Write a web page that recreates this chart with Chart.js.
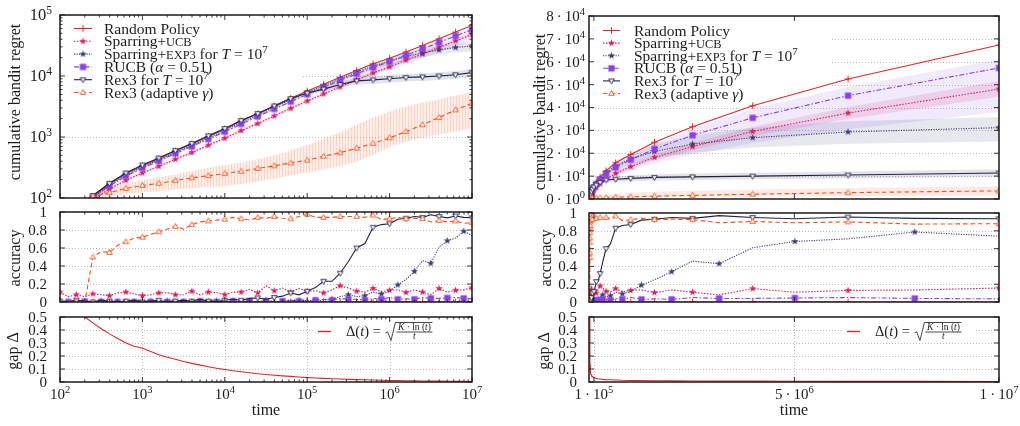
<!DOCTYPE html>
<html><head><meta charset="utf-8">
<script src="https://cdn.jsdelivr.net/npm/chart.js@4.4.1/dist/chart.umd.min.js"></script>
<style>
html,body{margin:0;padding:0;background:#fff;}
#wrap{position:relative;width:1020px;height:426px;overflow:hidden;background:#fff;}
#wrap canvas{position:absolute;left:0;top:0;}
</style></head><body><div id="wrap"></div>
<script>
// ================= DATA =================
// time samples (regret curves, every 10^0.2)
const regretTimes = [1e2,1.58e2,2.51e2,3.98e2,6.31e2,1e3,1.58e3,2.51e3,3.98e3,6.31e3,1e4,1.58e4,2.51e4,3.98e4,6.31e4,1e5,1.58e5,2.51e5,3.98e5,6.31e5,1e6,1.58e6,2.51e6,3.98e6,6.31e6,1e7];
// time samples (accuracy and gap curves, every 10^0.1)
const accTimes = [1e2,1.26e2,1.58e2,2e2,2.51e2,3.16e2,3.98e2,5.01e2,6.31e2,7.94e2,
  1e3,1.26e3,1.58e3,2e3,2.51e3,3.16e3,3.98e3,5.01e3,6.31e3,7.94e3,
  1e4,1.26e4,1.58e4,2e4,2.51e4,3.16e4,3.98e4,5.01e4,6.31e4,7.94e4,
  1e5,1.26e5,1.58e5,2e5,2.51e5,3.16e5,3.98e5,5.01e5,6.31e5,7.94e5,
  1e6,1.26e6,1.58e6,2e6,2.51e6,3.16e6,3.98e6,5.01e6,6.31e6,7.94e6,1e7];

// cumulative bandit regret (means)
const regretRandom   = [42,68,107,170,251,339,442,589,767,1023,1349,1841,2399,3236,4315,5689,7328,9550,12300,15850,19500,24830,31600,40740,52480,67300];
const regretSparUCB  = [38,60,95,141,195,257,331,432,556,733,955,1274,1660,2213,2951,3890,5070,6607,8710,11220,14130,18200,22910,29510,37580,48080];
const regretSparEXP3 = [40,65,102,162,240,324,422,562,733,977,1288,1758,2291,3090,4074,5370,6918,8913,11600,14500,17500,20800,24000,26800,29300,31200];
const regretRUCB     = [40,65,102,158,229,309,403,537,700,923,1216,1641,2163,2884,3802,5012,6457,8511,10840,13800,17180,21880,27860,35480,45190,57280];
const regretRex3     = [42,69,110,174,257,347,452,603,785,1047,1380,1862,2427,3236,4266,5248,6095,7244,8318,8650,9016,9441,9661,10000,10470,11350];
const regretAdaptive = [45,71,105,123,143,160,174,193,214,232,251,275,305,337,375,417,483,553,656,785,966,1230,1585,2089,2786,3548];

// regret confidence bands (upper / lower)
const bandUCBHigh  = [41,64,102,151,209,275,354,462,595,784,1022,1363,1776,2368,3158,4162,5425,7070,9320,12010,15120,19470,24510,31580,40210,51450];
const bandUCBLow   = [35,56,88,131,181,239,308,402,517,682,888,1185,1544,2058,2744,3618,4715,6145,8100,10430,13140,16930,21310,27440,34950,44710];
const bandEXP3High = [42,68,107,170,252,340,443,590,770,1026,1352,1846,2406,3245,4278,5640,7400,9700,12900,16400,20000,24000,27800,31200,34000,35800];
const bandEXP3Low  = [38,62,97,154,228,308,401,534,696,928,1224,1670,2176,2936,3870,5100,6450,8100,10300,12700,15000,17600,20200,22500,24200,25100];
const bandRUCBHigh = [42,68,107,166,240,325,423,564,735,969,1277,1723,2271,3028,3992,5263,6780,8940,11490,14900,18700,24000,30800,39500,49000,61000];
const bandRUCBLow  = [38,62,97,150,218,294,383,510,665,877,1155,1559,2055,2740,3612,4700,5700,6500,8300,10300,12500,15500,19500,24500,30500,38000];
const bandRex3High = [43,71,113,179,265,357,466,621,809,1078,1421,1918,2500,3333,4394,5510,6580,8040,9400,9860,10370,10860,11110,11500,12040,13050];
const bandRex3Low  = [41,67,107,169,249,337,438,585,761,1016,1339,1806,2354,3139,4138,4990,5610,6450,7240,7440,7750,8120,8310,8600,9000,9760];
const bandAdaHigh  = [50,79,115,148,174,195,219,243,275,309,347,380,437,501,603,741,933,1202,1585,2089,2630,3162,3631,4169,4786,5559];
const bandAdaLow   = [40,63,95,105,115,123,129,138,145,151,158,170,186,209,234,263,295,331,398,513,676,832,977,1096,1230,1380];

// accuracy
const accRandom   = [0,0,0,0,0,0,0,0,0,0, 0,0,0,0,0,0,0,0,0,0, 0,0,0,0,0,0,0,0,0,0, 0,0,0,0,0,0,0,0,0,0, 0,0,0,0,0,0,0,0,0,0, 0];
const accSparUCB  = [0.11,0.06,0.08,0.06,0.09,0.08,0.07,0.10,0.11,0.09, 0.07,0.08,0.10,0.105,0.08,0.08,0.12,0.08,0.11,0.105,
  0.08,0.11,0.11,0.14,0.10,0.18,0.125,0.155,0.11,0.15, 0.12,0.125,0.10,0.135,0.18,0.155,0.12,0.11,0.15,0.115,
  0.13,0.137,0.105,0.135,0.11,0.08,0.15,0.11,0.13,0.135, 0.157];
const accSparEXP3 = [0.01,0,0.02,0.01,0,0.01,0.02,0,0.01,0, 0.02,0.01,0,0.01,0.02,0,0.01,0,0.02,0.01,
  0,0.01,0.02,0.01,0,0.02,0.01,0,0.02,0.01, 0.02,0.01,0.02,0.03,0.06,0.08,0.06,0.07,0.11,0.09,
  0.12,0.19,0.25,0.34,0.46,0.43,0.61,0.68,0.71,0.786, 0.74];
const accRUCB     = [0,0,0,0.005,0,0,0,0,0.005,0, 0,0,0.005,0,0,0,0,0.01,0,0,
  0,0.01,0,0.01,0,0.01,0,0.01,0.02,0.01, 0.01,0.02,0.03,0.02,0.04,0.03,0.03,0.02,0.04,0.03,
  0.05,0.03,0.035,0.03,0.05,0.04,0.04,0.045,0.05,0.04, 0.035];
const accRex3     = [0.01,0.005,0.02,0.01,0,0.02,0.01,0,0.01,0.02, 0,0.01,0.02,0,0.01,0.02,0.01,0.03,0.01,0,
  0.02,0.03,0.02,0.04,0.045,0.03,0.05,0.065,0.10,0.08, 0.12,0.16,0.23,0.23,0.32,0.45,0.60,0.65,0.83,0.86,
  0.87,0.92,0.93,0.95,0.94,0.97,0.95,0.935,0.955,0.94, 0.936];
const accAdaptive = [0,0,0,0,0.5,0.56,0.55,0.63,0.67,0.71, 0.72,0.75,0.78,0.81,0.84,0.81,0.86,0.89,0.90,0.91,
  0.92,0.94,0.925,0.91,0.94,0.93,0.95,0.93,0.925,0.95, 0.975,0.94,0.94,0.94,0.95,0.95,0.95,0.94,0.965,0.915,
  0.925,0.94,0.925,0.93,0.925,0.89,0.905,0.89,0.90,0.875, 0.88];

// gap Δ(t)
const gapValues = [0.68,0.62,0.56,0.50,0.455,0.41,0.37,0.335,0.30,0.275,
  0.26,0.235,0.21,0.19,0.175,0.158,0.143,0.13,0.117,0.106,
  0.096,0.087,0.079,0.071,0.064,0.058,0.052,0.047,0.043,0.038,
  0.034,0.031,0.028,0.025,0.023,0.02,0.018,0.017,0.015,0.013,
  0.012,0.011,0.01,0.009,0.008,0.007,0.0065,0.006,0.005,0.0048,0.0043];

// tick labels
const logXTickLabels   = ['10^2','10^3','10^4','10^5','10^6','10^7'];
const linXTickValues   = [1e5, 5e6, 1e7];
const linXTickLabels   = ['1·10^5','5·10^6','1·10^7'];
const logRegretLabels  = ['10^2','10^3','10^4','10^5'];
const linRegretValues  = [0,1e4,2e4,3e4,4e4,5e4,6e4,7e4,8e4];
const linRegretLabels  = ['0·10^0','1·10^4','2·10^4','3·10^4','4·10^4','5·10^4','6·10^4','7·10^4','8·10^4'];
const accTickValues    = [0,0.2,0.4,0.6,0.8,1];
const accTickLabels    = ['0','0.2','0.4','0.6','0.8','1'];
const gapTickValues    = [0,0.1,0.2,0.3,0.4,0.5];
const gapTickLabels    = ['0','0.1','0.2','0.3','0.4','0.5'];

// legend text
const seriesLabels = [
  [{t:'Random Policy'}],
  [{t:'Sparring+'},{t:'UCB',sc:true}],
  [{t:'Sparring+'},{t:'EXP3',sc:true},{t:' for '},{t:'T',it:true},{t:' = 10'},{t:'7',sup:true}],
  [{t:'RUCB ('},{t:'α',it:true},{t:' = 0.51)'}],
  [{t:'Rex3 for '},{t:'T',it:true},{t:' = 10'},{t:'7',sup:true}],
  [{t:'Rex3 (adaptive '},{t:'γ',it:true},{t:')'}]
];

// ================= STYLES =================
const FONT = '"Liberation Serif","DejaVu Serif",serif';
const TXT = '#1c1c1c';
const seriesStyles = [
  {color:'#e3262b', dash:[],          marker:'plus'},
  {color:'#e01c5c', dash:[1.5,1.5],   marker:'star'},
  {color:'#3a3f72', dash:[1.2,1.3],   marker:'star'},
  {color:'#8a3ff0', dash:[5,2,1.5,2], marker:'square'},
  {color:'#1f2248', dash:[],          marker:'tridown'},
  {color:'#ff4d12', dash:[4.5,3],     marker:'triup'}
];
const accPhase = [0,0,1,1,0,0];

function makeMarker(kind, color) {
  const S = 13, c = document.createElement('canvas'); c.width = S; c.height = S;
  const g = c.getContext('2d'), m = S / 2;
  g.strokeStyle = color; g.fillStyle = color; g.lineWidth = 1;
  if (kind === 'plus') {
    g.beginPath(); g.moveTo(m-3.3,m); g.lineTo(m+3.3,m); g.moveTo(m,m-3.3); g.lineTo(m,m+3.3); g.stroke();
  } else if (kind === 'star') {
    g.beginPath();
    for (let i = 0; i < 10; i++) { const r = i % 2 ? 1.6 : 3.8; const a = -Math.PI/2 + i*Math.PI/5; g.lineTo(m + r*Math.cos(a), m + r*Math.sin(a)); }
    g.closePath(); g.fill();
  } else if (kind === 'square') {
    g.fillRect(m-3.1, m-3.1, 6.2, 6.2);
  } else {
    const s = kind === 'triup' ? -1 : 1;
    g.lineWidth = 0.9;
    g.beginPath(); g.moveTo(m-2.8, m - s*1.8); g.lineTo(m+2.8, m - s*1.8); g.lineTo(m, m + s*2.9); g.closePath();
    g.fillStyle = '#fff'; g.fill(); g.stroke();
  }
  return c;
}
const markers = seriesStyles.map(s => makeMarker(s.marker, s.color));

function hatchPattern() {
  const c = document.createElement('canvas'); c.width = 3; c.height = 4;
  const g = c.getContext('2d');
  g.fillStyle = 'rgba(255,150,110,0.17)'; g.fillRect(0,0,3,4);
  g.fillStyle = 'rgba(255,120,80,0.22)'; g.fillRect(0,0,1,4);
  return g.createPattern(c, 'repeat');
}

// ================= TEXT HELPERS =================
function runFont(r, size) {
  let s = size; if (r.sup) s = size*0.7; if (r.sc) s = size*0.8;
  return (r.it ? 'italic ' : '') + s.toFixed(2) + 'px ' + FONT;
}
function richWidth(ctx, runs, size) {
  let w = 0; for (const r of runs) { ctx.font = runFont(r, size); w += ctx.measureText(r.t).width; } return w;
}
function drawRich(ctx, runs, x, y, size, align, mid) {
  const w = richWidth(ctx, runs, size);
  let cx = align === 'right' ? x - w : align === 'center' ? x - w/2 : x;
  ctx.textAlign = 'left'; ctx.textBaseline = 'alphabetic';
  const base = y + size * (mid || 0.33);
  for (const r of runs) {
    ctx.font = runFont(r, size);
    ctx.fillText(r.t, cx, base + (r.sup ? -size*0.38 : 0));
    cx += ctx.measureText(r.t).width;
  }
}
// 'a·b^c' -> runs; sep is the spacing put around the centre dot
function parseTick(s, sep) {
  const runs = [];
  let body = s, sup = null;
  const i = s.indexOf('^'); if (i >= 0) { body = s.slice(0, i); sup = s.slice(i + 1); }
  const j = body.indexOf('·');
  if (j >= 0) { runs.push({t: body.slice(0, j) + sep + '·' + sep + body.slice(j + 1)}); }
  else runs.push({t: body});
  if (sup !== null) runs.push({t: sup, sup: true});
  return runs;
}
function seg(ctx, x1, y1, x2, y2) { ctx.beginPath(); ctx.moveTo(x1,y1); ctx.lineTo(x2,y2); ctx.stroke(); }

function drawGapLegend(ctx, x0, y) {
  ctx.save();
  ctx.strokeStyle = seriesStyles[0].color; ctx.lineWidth = 1.4; seg(ctx, x0, y, x0+13, y);
  ctx.fillStyle = TXT; ctx.strokeStyle = TXT;
  const lhs = [{t:'Δ('},{t:'t',it:true},{t:') = '}];
  const tx = x0 + 28;
  drawRich(ctx, lhs, tx, y, 14.5, 'left');
  const rx = tx + richWidth(ctx, lhs, 14.5) + 1;
  const num = [{t:'K',it:true},{t:' · ln ('},{t:'t',it:true},{t:')'}];
  const ns = 9.5, nw = richWidth(ctx, num, ns), fx = rx + 11;
  ctx.lineWidth = 0.8;
  ctx.beginPath(); ctx.moveTo(rx, y+1.5); ctx.lineTo(rx+2.2, y+0.3); ctx.lineTo(rx+5.5, y+9); ctx.lineTo(rx+10, y-9); ctx.lineTo(fx+nw+3, y-9); ctx.stroke();
  drawRich(ctx, num, fx+1.5+nw/2, y-4.2, ns, 'center');
  seg(ctx, fx, y+0.5, fx+nw+3, y+0.5);
  drawRich(ctx, [{t:'t',it:true}], fx+1.5+nw/2, y+4.8, ns, 'center');
  ctx.restore();
}

// ================= PANEL PLUGIN =================
const panelPlugin = {
  id: 'panel',
  beforeDatasetsDraw(chart) {
    const P = chart.canvas._panel, ctx = chart.ctx, a = chart.chartArea;
    const xs = chart.scales.x, ys = chart.scales.y;
    ctx.save();
    ctx.strokeStyle = '#a9a9a9'; ctx.lineWidth = 0.8; ctx.setLineDash([1, 2]);
    (P.yGrid || []).forEach(v => { const y = Math.round(ys.getPixelForValue(v)) + 0.5; seg(ctx, a.left, y, a.right, y); });
    (P.xGrid || []).forEach(v => { const x = Math.round(xs.getPixelForValue(v)) + 0.5; seg(ctx, x, a.top, x, a.bottom); });
    ctx.setLineDash([]);
    ctx.fillStyle = '#fff';
    (P.boxes || []).forEach(b => ctx.fillRect(b[0], b[1], b[2]-b[0], b[3]-b[1]));
    ctx.restore();
  },
  afterDatasetsDraw(chart) {
    const P = chart.canvas._panel, ctx = chart.ctx, a = chart.chartArea;
    const xs = chart.scales.x, ys = chart.scales.y;
    ctx.save();
    // ticks
    ctx.strokeStyle = '#222'; ctx.lineWidth = 0.9;
    P.yTicks.forEach(tk => {
      const y = ys.getPixelForValue(tk.v); const L = tk.minor ? 2.5 : 5;
      seg(ctx, a.left, y, a.left + L, y); seg(ctx, a.right, y, a.right - L, y);
    });
    P.xTicks.forEach(tk => {
      const x = xs.getPixelForValue(tk.v); const L = tk.minor ? 2.5 : 5;
      seg(ctx, x, a.bottom, x, a.bottom - L); seg(ctx, x, a.top, x, a.top + L);
    });
    // frame
    ctx.strokeStyle = '#1a1a1a'; ctx.lineWidth = 1.5;
    ctx.strokeRect(a.left, a.top, a.right - a.left, a.bottom - a.top);
    // tick labels
    ctx.fillStyle = TXT;
    P.yTicks.forEach(tk => { if (tk.label) drawRich(ctx, parseTick(tk.label, '\u2009'), P.yLabelX, ys.getPixelForValue(tk.v), P.yTickSize, 'right'); });
    if (P.xLabelY) P.xTicks.forEach(tk => { if (tk.label) drawRich(ctx, parseTick(tk.label, '\u2009'), xs.getPixelForValue(tk.v), P.xLabelY, P.xTickSize, 'center'); });
    // titles
    if (P.yTitle) {
      ctx.save(); ctx.translate(P.yTitle.x, P.yTitle.y); ctx.rotate(-Math.PI/2);
      drawRich(ctx, [{t:P.yTitle.text}], 0, 0, P.titleSize, 'center', 0.25); ctx.restore();
    }
    if (P.xTitle) drawRich(ctx, [{t:P.xTitle.text}], P.xTitle.x, P.xTitle.y, P.titleSize, 'center', 0.25);
    // legends
    if (P.legend) {
      const L = P.legend;
      seriesStyles.forEach((st, i) => {
        const y = L.y0 + i * L.dy;
        ctx.save(); ctx.strokeStyle = st.color; ctx.lineWidth = 1.1; ctx.setLineDash(st.dash); seg(ctx, L.x1, y, L.x2, y); ctx.restore();
        ctx.drawImage(markers[i], L.xm - 6.5, y - 6.5);
        ctx.fillStyle = TXT; drawRich(ctx, seriesLabels[i], L.xt, y, L.size, 'left');
      });
    }
    if (P.gapLegend) drawGapLegend(ctx, P.gapLegend.x, P.gapLegend.y);
    ctx.restore();
  }
};

// ================= BUILDERS =================
function pts(times, vals) { return times.map((t, i) => ({x: t, y: vals[i]})); }
function lineDS(times, vals, i, every, phase) {
  const st = seriesStyles[i];
  return {
    data: pts(times, vals), borderColor: st.color, borderWidth: 1.1, borderDash: st.dash,
    pointStyle: markers[i], pointRadius: vals.map((_, k) => (k % every === phase) ? 4 : 0),
    fill: false, order: 6 - i, tension: 0
  };
}
function bandPair(times, hi, lo, bg) {
  return [
    {data: pts(times, hi), borderColor: 'rgba(0,0,0,0)', borderWidth: 0, pointRadius: 0, fill: '+1', backgroundColor: bg, order: 20},
    {data: pts(times, lo), borderColor: 'rgba(0,0,0,0)', borderWidth: 0, pointRadius: 0, fill: false, order: 20}
  ];
}
function regretDatasets(leftHatch) {
  const ds = [];
  [regretRandom, regretSparUCB, regretSparEXP3, regretRUCB, regretRex3, regretAdaptive]
    .forEach((v, i) => ds.push(lineDS(regretTimes, v, i, 1, 0)));
  ds.push(...bandPair(regretTimes, bandEXP3High, bandEXP3Low, 'rgba(70,70,120,0.13)'));
  ds.push(...bandPair(regretTimes, bandRUCBHigh, bandRUCBLow, 'rgba(140,70,240,0.12)'));
  ds.push(...bandPair(regretTimes, bandUCBHigh, bandUCBLow, 'rgba(224,28,92,0.13)'));
  ds.push(...bandPair(regretTimes, bandRex3High, bandRex3Low, 'rgba(40,40,80,0.13)'));
  ds.push(...bandPair(regretTimes, bandAdaHigh, bandAdaLow, leftHatch ? hatchPattern() : 'rgba(255,120,80,0.16)'));
  return ds;
}
function accDatasets() {
  return [accRandom, accSparUCB, accSparEXP3, accRUCB, accRex3, accAdaptive]
    .map((v, i) => lineDS(accTimes, v, i, 2, accPhase[i]));
}
function gapDatasets() {
  return [{data: pts(accTimes, gapValues), borderColor: seriesStyles[0].color, borderWidth: 1.1, pointRadius: 0, fill: false, tension: 0}];
}
function logTicks(lo, hi, labels) {
  const out = [];
  for (let e = lo; e <= hi; e++) {
    out.push({v: Math.pow(10, e), label: labels ? labels[e - lo] : null});
    if (e < hi) for (let k = 2; k <= 9; k++) out.push({v: k * Math.pow(10, e), minor: true});
  }
  return out;
}
function listTicks(vals, labels) { return vals.map((v, i) => ({v, label: labels ? labels[i] : null})); }

function addPanel(P) {
  const canvas = document.createElement('canvas');
  canvas.width = 1020; canvas.height = 426;
  document.getElementById('wrap').appendChild(canvas);
  canvas._panel = P;
  new Chart(canvas.getContext('2d'), {
    type: 'line',
    data: {datasets: P.datasets},
    options: {
      responsive: false, animation: false, devicePixelRatio: 1, events: [],
      layout: {padding: {left: P.area.l, top: P.area.t, right: 1020 - P.area.r, bottom: 426 - P.area.b}},
      scales: {
        x: {type: P.xType, min: P.xMin, max: P.xMax, display: false},
        y: {type: P.yType, min: P.yMin, max: P.yMax, display: false}
      },
      plugins: {legend: {display: false}, tooltip: {enabled: false}}
    },
    plugins: [panelPlugin]
  });
}

// ================= PANELS =================
const LX = {xType: 'logarithmic', xMin: 1e2, xMax: 1e7};
const RX = {xType: 'linear', xMin: -2e4, xMax: 1e7};
const common = {yTickSize: 15, xTickSize: 15, titleSize: 16};

// left column
addPanel(Object.assign({}, LX, common, {
  area: {l: 60, t: 15, r: 472, b: 198}, yType: 'logarithmic', yMin: 1e2, yMax: 1e5,
  datasets: regretDatasets(true), yTickSize: 16.5,
  yGrid: [1e3, 1e4], yTicks: logTicks(2, 5, logRegretLabels), xTicks: logTicks(2, 7),
  yLabelX: 52, yTitle: {text: 'cumulative bandit regret', x: 16, y: 102},
  boxes: [[61, 16, 303, 100]],
  legend: {x1: 74, x2: 92, xm: 83, xt: 104, y0: 28.5, dy: 12.8, size: 15.5}
}));
addPanel(Object.assign({}, LX, common, {
  area: {l: 60, t: 212, r: 472, b: 302}, yType: 'linear', yMin: 0, yMax: 1,
  datasets: accDatasets(),
  yGrid: [0.2, 0.4, 0.6, 0.8], yTicks: listTicks(accTickValues, accTickLabels), xTicks: logTicks(2, 7),
  yLabelX: 47, yTitle: {text: 'accuracy', x: 16, y: 258}
}));
addPanel(Object.assign({}, LX, common, {
  area: {l: 60, t: 317, r: 472, b: 382}, yType: 'linear', yMin: 0, yMax: 0.5,
  datasets: gapDatasets(),
  yGrid: [0.1, 0.2, 0.3, 0.4], xGrid: [1e3, 1e4, 1e5, 1e6],
  yTicks: listTicks(gapTickValues, gapTickLabels), xTicks: logTicks(2, 7, logXTickLabels),
  yLabelX: 47, xLabelY: 394, yTitle: {text: 'gap Δ', x: 14, y: 351}, xTitle: {text: 'time', x: 266, y: 411},
  boxes: [[314, 321, 452, 341]], gapLegend: {x: 318, y: 331.5}
}));

// right column
addPanel(Object.assign({}, RX, common, {
  area: {l: 589, t: 16, r: 999, b: 199}, yType: 'linear', yMin: 0, yMax: 8e4,
  datasets: regretDatasets(false),
  yGrid: [1e4, 2e4, 3e4, 4e4, 5e4, 6e4, 7e4], yTicks: listTicks(linRegretValues, linRegretLabels), xTicks: listTicks(linXTickValues),
  yLabelX: 585, yTitle: {text: 'cumulative bandit regret', x: 541, y: 112},
  boxes: [[590, 17, 832, 100]],
  legend: {x1: 603, x2: 620, xm: 611.5, xt: 634, y0: 30.5, dy: 12.6, size: 15.5}
}));
addPanel(Object.assign({}, RX, common, {
  area: {l: 589, t: 213, r: 999, b: 302}, yType: 'linear', yMin: 0, yMax: 1,
  datasets: accDatasets(),
  yGrid: [0.2, 0.4, 0.6, 0.8], yTicks: listTicks(accTickValues, accTickLabels), xTicks: listTicks(linXTickValues),
  yLabelX: 577, yTitle: {text: 'accuracy', x: 547, y: 258}
}));
addPanel(Object.assign({}, RX, common, {
  area: {l: 589, t: 317, r: 999, b: 382}, yType: 'linear', yMin: 0, yMax: 0.5,
  datasets: gapDatasets(),
  yGrid: [0.1, 0.2, 0.3, 0.4], xGrid: [1e5, 5e6],
  yTicks: listTicks(gapTickValues, gapTickLabels), xTicks: listTicks(linXTickValues, linXTickLabels),
  yLabelX: 577, xLabelY: 394, yTitle: {text: 'gap Δ', x: 545, y: 351}, xTitle: {text: 'time', x: 794, y: 411},
  boxes: [[843, 321, 976, 341]], gapLegend: {x: 847, y: 331.5}
}));
</script></body></html>
